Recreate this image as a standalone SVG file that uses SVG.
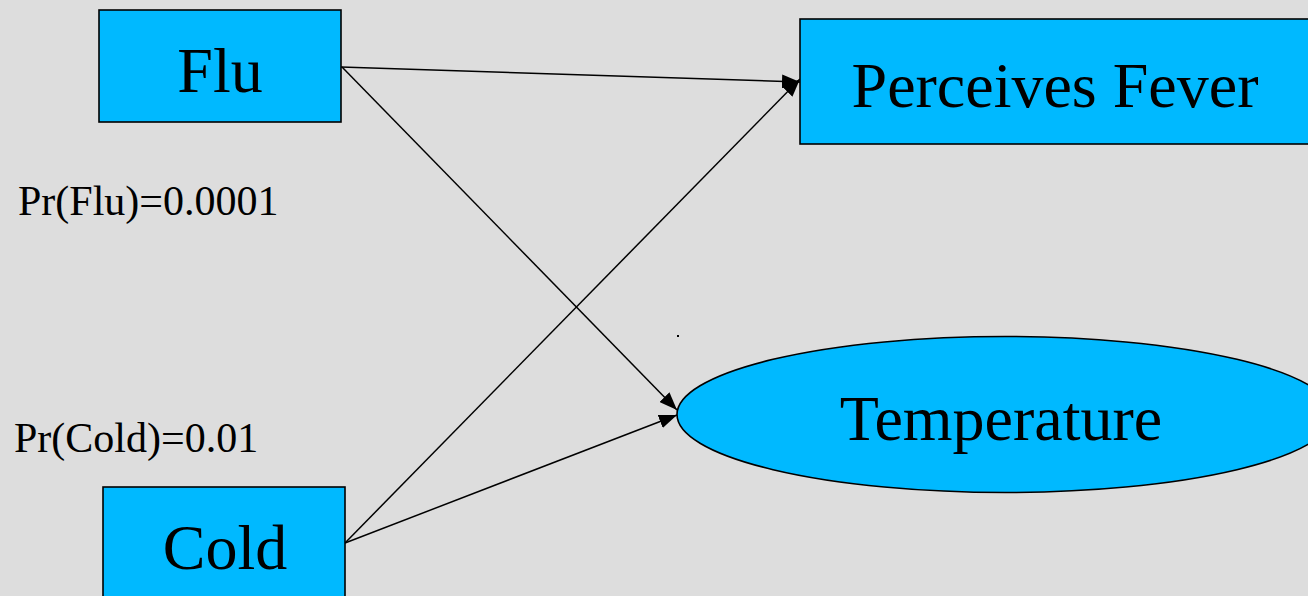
<svg xmlns="http://www.w3.org/2000/svg" width="1308" height="596" viewBox="0 0 1308 596">
  <style>
    .node { fill: #00b9ff; stroke: #000; stroke-width: 1.6; }
    .label { fill: #000; font-family: 'Liberation Serif', 'Times New Roman', Times, serif; }
    .big { font-size: 64px; text-anchor: middle; }
    .prob { font-size: 42px; }
    .edge { stroke: #000; stroke-width: 1.5; fill: none; marker-end: url(#arrow); }
  </style>
  <defs>
    <marker id="arrow" viewBox="0 0 18 14" refX="18" refY="7" markerWidth="18" markerHeight="14" markerUnits="userSpaceOnUse" orient="auto">
      <path d="M0,0 L18,7 L0,14 z" fill="#000"/>
    </marker>
  </defs>

  <rect width="1308" height="596" fill="#dddddd"/>

  <g id="connectors">
    <line class="edge" x1="341" y1="67" x2="800" y2="82"/>
    <line class="edge" x1="342" y1="67" x2="677" y2="410"/>
    <line class="edge" x1="345" y1="543" x2="800" y2="79"/>
    <line class="edge" x1="345" y1="543" x2="677" y2="415"/>
  </g>

  <g id="flu">
    <rect class="node" x="99" y="10" width="242" height="112"/>
    <text class="label big" x="220" y="92">Flu</text>
  </g>

  <g id="cold">
    <rect class="node" x="103" y="487" width="242" height="130"/>
    <text class="label big" x="225" y="569">Cold</text>
  </g>

  <g id="perceives-fever">
    <rect class="node" x="800" y="19" width="530" height="125"/>
    <text class="label big" x="1055" y="107">Perceives Fever</text>
  </g>

  <g id="temperature">
    <ellipse class="node" cx="1005" cy="414.5" rx="328" ry="78"/>
    <text class="label big" x="1001" y="440">Temperature</text>
  </g>

  <g id="priors">
    <text class="label prob" x="18" y="215">Pr(Flu)=0.0001</text>
    <text class="label prob" x="14" y="452">Pr(Cold)=0.01</text>
  </g>

  <rect x="677" y="335" width="2" height="2" fill="#000"/>
</svg>
